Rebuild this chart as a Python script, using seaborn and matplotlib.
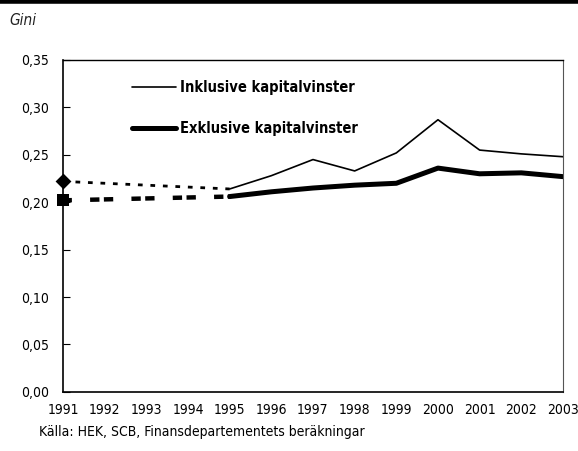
import matplotlib
matplotlib.use("Agg")
import matplotlib.pyplot as plt
import matplotlib.ticker as mticker
from matplotlib.lines import Line2D
import pandas as pd
import seaborn as sns

years = list(range(1991, 2004))
inkl = [0.222, 0.220, 0.218, 0.216, 0.214, 0.228, 0.245, 0.233, 0.252, 0.287, 0.255, 0.251, 0.248]
exkl = [0.202, 0.203, 0.204, 0.205, 0.206, 0.211, 0.215, 0.218, 0.220, 0.236, 0.230, 0.231, 0.227]
label_inkl = "Inklusive kapitalvinster"
label_exkl = "Exklusive kapitalvinster"

df = pd.DataFrame({"year": years, "inkl": inkl, "exkl": exkl})
early = df[df["year"] <= 1995]
late = df[df["year"] >= 1995]
first = df[df["year"] == 1991]

sns.set_style("white")
plt.rcParams["font.family"] = ["DejaVu Sans"]
plt.rcParams["font.stretch"] = "condensed"
plt.rcParams["text.color"] = "black"
plt.rcParams["xtick.color"] = "black"
plt.rcParams["ytick.color"] = "black"

fig = plt.figure(figsize=(5.78, 4.51), dpi=100)
ax = fig.add_axes([0.109, 0.131, 0.865, 0.736])

# early years, broken lines
sns.lineplot(data=early, x="year", y="inkl", ax=ax, color="black", lw=2.0,
             linestyle=(0, (1.7, 2.8)), dash_capstyle="butt")
sns.lineplot(data=early, x="year", y="exkl", ax=ax, color="black", lw=3.2,
             linestyle=(3.2, (2.1, 1.0, 2.1, 4.1)), dash_capstyle="butt")
# from 1995 solid
sns.lineplot(data=late, x="year", y="inkl", ax=ax, color="black", lw=1.2)
sns.lineplot(data=late, x="year", y="exkl", ax=ax, color="black", lw=3.6)
# 1991 markers
sns.scatterplot(data=first, x="year", y="inkl", ax=ax, color="black", marker="D",
                s=65, zorder=5, clip_on=False, linewidth=0)
sns.scatterplot(data=first, x="year", y="exkl", ax=ax, color="black", marker="s",
                s=80, zorder=5, clip_on=False, linewidth=0)

ax.set_xlim(1991, 2003)
ax.set_ylim(0, 0.35)
ax.set_xticks(years)
ax.set_yticks([0, 0.05, 0.10, 0.15, 0.20, 0.25, 0.30, 0.35])
ax.yaxis.set_major_formatter(mticker.FuncFormatter(lambda v, p: f"{v:.2f}".replace(".", ",")))
ax.tick_params(axis="y", direction="in", length=5, width=0.8, labelsize=10, pad=10, left=True)
ax.tick_params(axis="x", length=0, labelsize=10, pad=8)
ax.set_xlabel("")
ax.set_ylabel("")

for side in ["left", "bottom"]:
    ax.spines[side].set_color("black")
    ax.spines[side].set_linewidth(1.2)
ax.spines["top"].set_color("black")
ax.spines["top"].set_linewidth(1.0)
ax.spines["right"].set_color("#555555")
ax.spines["right"].set_linewidth(0.8)

# legend drawn inside the plot
handles = [Line2D([], [], color="black", lw=1.2), Line2D([], [], color="black", lw=3.6)]
leg = ax.legend(handles, [label_inkl, label_exkl], loc="upper left",
                bbox_to_anchor=(0.112, 0.978), frameon=False, handlelength=3.0,
                handletextpad=0.3, labelspacing=1.75,
                prop={"weight": "bold", "size": 10.5, "stretch": "condensed"})

fig.text(0.017, 0.955, "Gini", fontsize=11, style="italic",
         ha="left", va="center", color="#222222")
fig.text(0.068, 0.042, "Källa: HEK, SCB, Finansdepartementets beräkningar", fontsize=10,
         ha="left", va="center")
fig.add_artist(Line2D([0, 1], [0.997, 0.997], transform=fig.transFigure, color="black", lw=4))

fig.savefig("out.png", dpi=100)
